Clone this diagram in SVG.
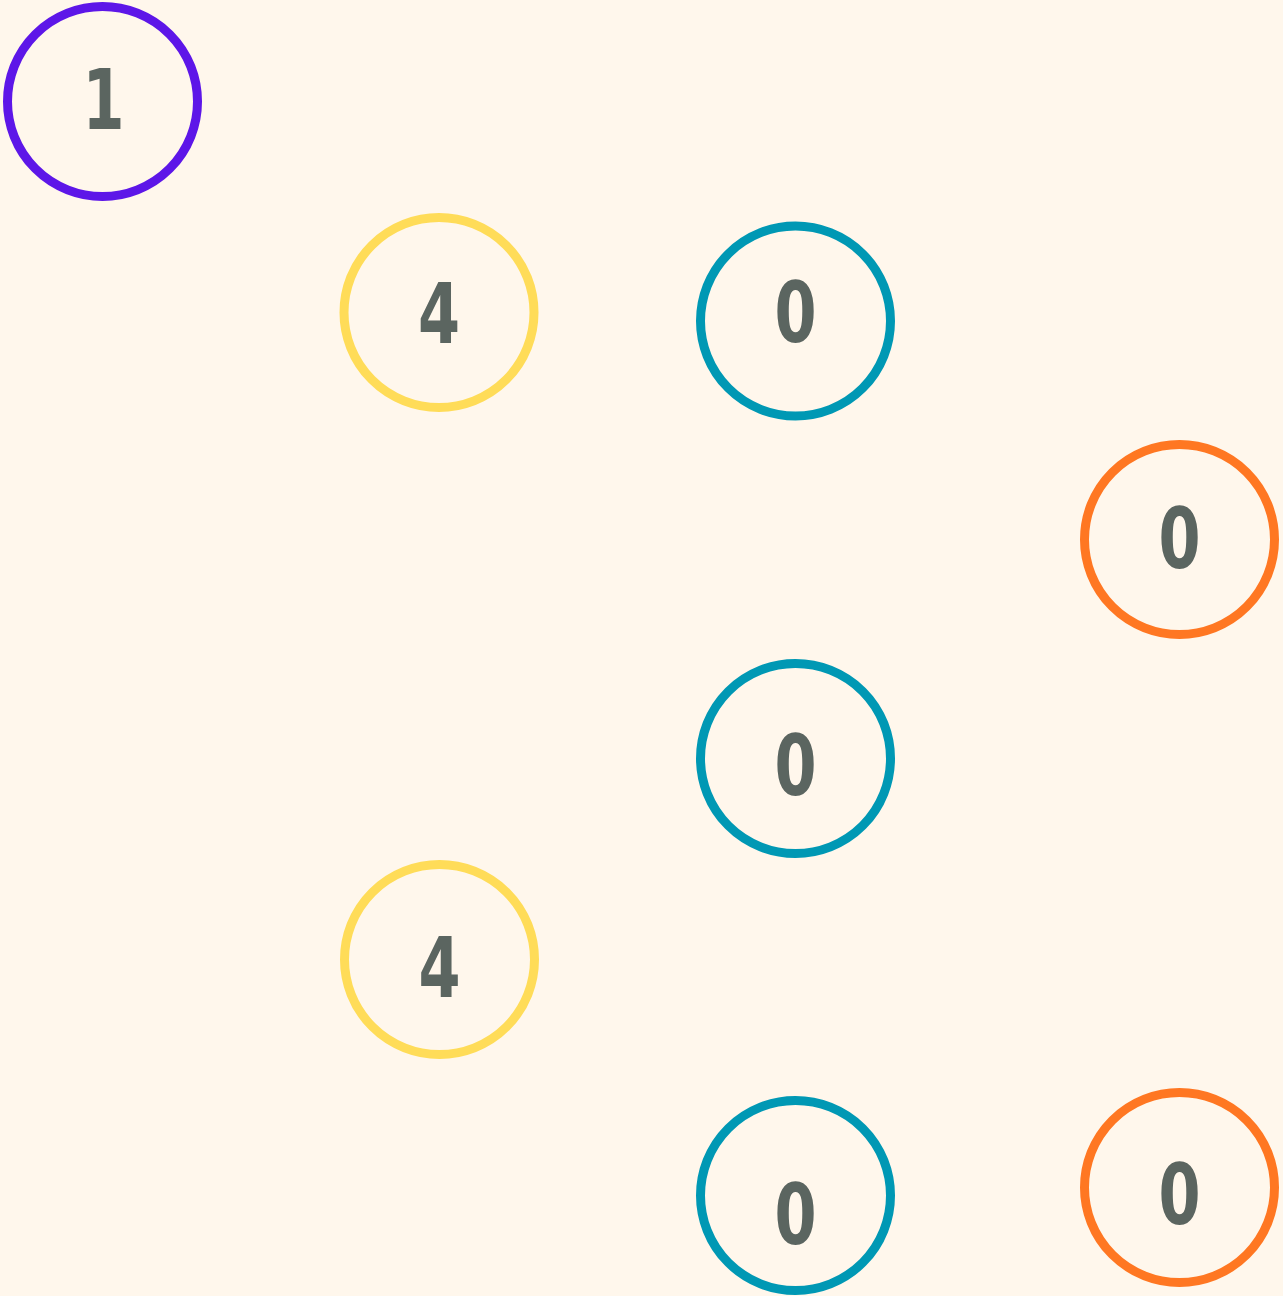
<svg xmlns="http://www.w3.org/2000/svg" width="1283" height="1296" viewBox="0 0 1283 1296">
<style>
.n{fill:none;stroke-width:9}
.t{font-family:"DejaVu Sans",sans-serif;font-weight:bold;font-size:84px;fill:#5b6560;text-anchor:middle}
.p{stroke:#5d16e8}.y{stroke:#ffdc58}.b{stroke:#0098b4}.o{stroke:#ff7722}
</style>
<rect width="1283" height="1296" fill="#fff7ec"/>
<g id="connectors"></g>
<g id="n1"><circle class="n p" cx="102.5" cy="101.5" r="95"/><text class="t" transform="translate(103.5 129) scale(0.72 1)">1</text></g>
<g id="n2"><circle class="n y" cx="439" cy="312.5" r="95"/><text class="t" transform="translate(439 343) scale(0.72 1)">4</text></g>
<g id="n3"><circle class="n b" cx="795.5" cy="321" r="95"/><text class="t" transform="translate(795.5 342) scale(0.72 1)">0</text></g>
<g id="n4"><circle class="n o" cx="1179.5" cy="539.5" r="95"/><text class="t" transform="translate(1179.5 568) scale(0.72 1)">0</text></g>
<g id="n5"><circle class="n b" cx="795.5" cy="758.5" r="95"/><text class="t" transform="translate(795.5 795) scale(0.72 1)">0</text></g>
<g id="n6"><circle class="n y" cx="439.5" cy="959.5" r="95"/><text class="t" transform="translate(439.5 997) scale(0.72 1)">4</text></g>
<g id="n7"><circle class="n b" cx="795.5" cy="1195.5" r="95"/><text class="t" transform="translate(795.5 1244) scale(0.72 1)">0</text></g>
<g id="n8"><circle class="n o" cx="1179.5" cy="1187.5" r="95"/><text class="t" transform="translate(1179.5 1224) scale(0.72 1)">0</text></g>
</svg>
